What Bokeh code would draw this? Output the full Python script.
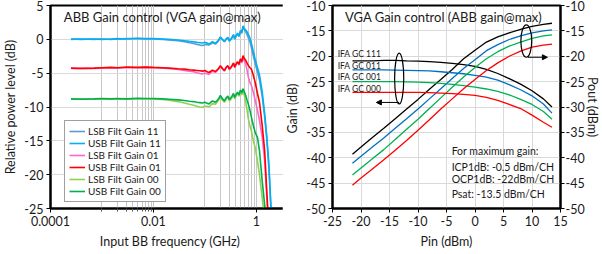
from bokeh.plotting import figure
from bokeh.layouts import row
from bokeh.models import FixedTicker, LinearAxis, Legend, LegendItem, Label, Arrow, NormalHead
from bokeh.embed import file_html
from bokeh.resources import INLINE

FONT = "Lato"
TXT = "#1a1a1a"
GRID = "#D9D9D9"

# ---------------- Left chart data ----------------
freq_ghz = [0.00025, 0.0004, 0.0007, 0.001, 0.0015, 0.002, 0.003, 0.005, 0.007, 0.01,
            0.015, 0.02, 0.03, 0.04, 0.05, 0.06, 0.07, 0.08, 0.09, 0.1,
            0.11, 0.12, 0.14, 0.16, 0.18, 0.2, 0.22, 0.24, 0.26, 0.28,
            0.3, 0.33, 0.36, 0.38, 0.4, 0.43, 0.46, 0.49, 0.52, 0.55,
            0.58, 0.62, 0.66, 0.7, 0.75, 0.8, 0.87, 0.95, 1.05, 1.15,
            1.3, 1.45, 1.6, 1.75, 1.9, 2.1]

lsb_gain_11 = [0.0, 0.05, 0.0, 0.05, 0.0, 0.05, 0.1, 0.1, 0.05, 0.05,
               0.0, -0.1, -0.2, -0.35, -0.5, -0.6, -0.75, -0.85, -0.9, -0.8,
               -0.75, -0.85, -0.5, -0.7, -0.3, 0.2, -0.1, -0.35, 0.0, 0.2,
               -0.3, 0.1, 0.6, 0.0, 0.4, 0.8, 0.4, 1.1, 0.9, 1.8,
               1.5, 1.1, 0.7, 0.2, -0.4, -1.2, -2.4, -3.6, -4.8, -6.0,
               -8.5, -11.5, -15.0, -19.0, -24.5, -30.0]
usb_gain_11 = [0.05, 0.0, 0.05, 0.0, 0.05, 0.1, 0.05, 0.15, 0.1, 0.1,
               0.05, 0.0, -0.1, -0.2, -0.3, -0.35, -0.45, -0.5, -0.55, -0.45,
               -0.55, -0.7, -0.35, -0.6, -0.2, 0.35, 0.0, -0.3, 0.1, 0.3,
               -0.2, 0.2, 0.7, 0.1, 0.5, 0.9, 0.5, 1.3, 1.0, 2.0,
               1.6, 1.4, 1.1, 0.7, 0.2, -0.6, -1.8, -3.0, -4.2, -5.3,
               -7.8, -11.0, -14.5, -18.5, -24.0, -30.0]
lsb_gain_01 = [-4.3, -4.25, -4.3, -4.25, -4.2, -4.25, -4.2, -4.2, -4.15, -4.2,
               -4.25, -4.3, -4.45, -4.6, -4.7, -4.8, -4.95, -5.05, -5.1, -5.0,
               -5.1, -5.2, -4.7, -4.9, -4.5, -4.0, -4.4, -4.7, -4.2, -4.0,
               -4.5, -4.1, -3.6, -4.2, -3.8, -3.4, -3.8, -3.0, -3.5, -2.6,
               -3.2, -3.6, -4.6, -5.6, -6.4, -6.8, -7.8, -9.0, -10.5, -12.0,
               -14.5, -18.0, -23.5, -28.5, -31.0, -33.0]
usb_gain_01 = [-4.25, -4.3, -4.25, -4.2, -4.15, -4.2, -4.1, -4.15, -4.1, -4.15,
               -4.2, -4.25, -4.35, -4.4, -4.5, -4.55, -4.6, -4.65, -4.7, -4.6,
               -4.8, -4.9, -4.55, -4.75, -4.4, -3.9, -4.3, -4.6, -4.1, -3.9,
               -4.4, -4.0, -3.5, -4.1, -3.7, -3.3, -3.7, -2.9, -3.3, -2.4,
               -2.8, -3.1, -3.5, -3.9, -4.2, -4.4, -5.3, -6.4, -8.0, -9.3,
               -12.8, -16.5, -22.8, -28.0, -31.0, -33.0]
lsb_gain_00 = [-8.85, -8.8, -8.85, -8.8, -8.85, -8.8, -8.85, -8.8, -8.8, -8.85,
               -8.9, -9.0, -9.2, -9.4, -9.6, -9.75, -9.9, -10.0, -10.05, -9.9,
               -9.9, -10.0, -9.5, -9.6, -9.1, -8.6, -9.0, -9.3, -8.8, -8.6,
               -9.1, -8.7, -8.2, -8.8, -8.4, -8.0, -8.4, -7.8, -8.2, -7.6,
               -8.2, -9.2, -10.5, -11.8, -12.8, -13.5, -15.0, -16.0, -18.0, -20.0,
               -23.5, -27.0, -31.0, -33.0, -34.0, -35.0]
usb_gain_00 = [-8.8, -8.85, -8.8, -8.75, -8.8, -8.75, -8.8, -8.7, -8.75, -8.75,
               -8.8, -8.85, -8.95, -9.05, -9.15, -9.2, -9.3, -9.35, -9.4, -9.3,
               -9.45, -9.55, -9.1, -9.3, -8.9, -8.3, -8.8, -9.1, -8.6, -8.4,
               -8.9, -8.5, -8.0, -8.6, -8.2, -7.8, -8.2, -7.5, -7.9, -7.3,
               -7.7, -8.3, -9.0, -9.6, -10.5, -11.5, -12.7, -13.8, -14.5, -16.5,
               -21.0, -24.5, -28.0, -32.0, -33.0, -34.0]

left_series = [
    ("LSB Filt Gain 11", lsb_gain_11, "#5B9BD5"),
    ("USB Filt Gain 11", usb_gain_11, "#00B0F0"),
    ("LSB Filt Gain 01", lsb_gain_01, "#FF66CC"),
    ("USB Filt Gain 01", usb_gain_01, "#FF0000"),
    ("LSB Filt Gain 00", lsb_gain_00, "#92D050"),
    ("USB Filt Gain 00", usb_gain_00, "#00B050"),
]

left_x_ticks = [0.0001, 0.01, 1]
left_x_labels = ["0.0001", "0.01", "1"]
left_x_grid = [0.001, 0.002, 0.003, 0.004, 0.005, 0.006, 0.007, 0.008, 0.009, 0.01,
               0.1, 0.2, 0.3, 0.4, 0.5, 0.6, 0.7, 0.8, 0.9, 1.0]
left_y_ticks = [5, 0, -5, -10, -15, -20, -25]
left_y_labels = ["5", "0", "-5", "-10", "-15", "-20", "-25"]

# ---------------- Right chart data ----------------
pin_dbm = [-21.5, -20, -18, -16, -14, -12, -10, -8, -6, -4, -2, 0, 2, 4, 6, 8, 10, 12, 13.5]

pout_111 = [-39.3, -37.9, -36.0, -34.2, -32.3, -30.4, -28.5, -26.5, -24.6, -22.6,
            -20.5, -18.8, -17.2, -16.2, -15.4, -14.7, -14.1, -13.7, -13.5]
pout_011 = [-41.1, -39.7, -37.9, -36.1, -34.2, -32.3, -30.4, -28.4, -26.4, -24.4,
            -22.4, -20.7, -18.9, -17.7, -16.7, -16.0, -15.4, -15.0, -14.8]
pout_001 = [-43.4, -42.0, -40.2, -38.4, -36.4, -34.4, -32.4, -30.3, -28.2, -26.1,
            -24.1, -22.2, -20.5, -19.1, -18.0, -17.2, -16.5, -16.0, -15.8]
pout_000 = [-45.4, -44.0, -42.2, -40.4, -38.5, -36.6, -34.6, -32.5, -30.4, -28.4,
            -26.4, -24.6, -22.8, -21.3, -20.0, -19.0, -18.2, -17.8, -17.6]

gain_111 = [-20.9, -20.9, -20.9, -20.8, -20.8, -20.9, -20.95, -21.05, -21.2, -21.4,
            -21.65, -22.0, -22.6, -23.4, -24.4, -25.5, -26.8, -28.4, -30.0]
gain_011 = [-22.7, -22.7, -22.7, -22.7, -22.75, -22.8, -22.85, -22.9, -23.05, -23.25,
            -23.45, -23.75, -24.1, -24.7, -25.6, -26.6, -27.8, -29.4, -31.2]
gain_001 = [-25.0, -25.0, -25.0, -25.0, -25.0, -25.05, -25.1, -25.2, -25.35, -25.55,
            -25.8, -26.1, -26.45, -26.9, -27.6, -28.5, -29.5, -30.9, -32.4]
gain_000 = [-27.1, -27.1, -27.1, -27.1, -27.1, -27.1, -27.1, -27.15, -27.25, -27.35,
            -27.5, -27.7, -28.1, -28.7, -29.5, -30.3, -31.6, -33.0, -34.0]

right_series = [
    (pout_111, gain_111, "#000000"),
    (pout_011, gain_011, "#0070C0"),
    (pout_001, gain_001, "#00B050"),
    (pout_000, gain_000, "#FF0000"),
]
gc_labels = ["IFA GC 111", "IFA GC 011", "IFA GC 001", "IFA GC 000"]

right_x_ticks = [-25, -20, -15, -10, -5, 0, 5, 10, 15]
right_x_labels = ["-25", "-20", "-15", "-10", "-5", "0", "5", "10", "15"]
right_y_ticks = [-10, -15, -20, -25, -30, -35, -40, -45, -50]
right_y_labels = ["-10", "-15", "-20", "-25", "-30", "-35", "-40", "-45", "-50"]

notes = ["For maximum gain:", "ICP1dB: -0.5 dBm/CH", "OCP1dB: -22dBm/CH", "Psat: -13.5 dBm/CH"]


def style_axis(ax, label, label_standoff=3, tick_standoff=3):
    ax.axis_label = label
    ax.axis_label_text_font = FONT
    ax.axis_label_text_font_size = "12.5px"
    ax.axis_label_text_font_style = "normal"
    ax.axis_label_text_color = TXT
    ax.axis_label_standoff = label_standoff
    ax.major_label_text_font = FONT
    ax.major_label_text_font_size = "12.5px"
    ax.major_label_text_color = TXT
    ax.major_label_standoff = tick_standoff
    ax.axis_line_color = "black"
    ax.axis_line_width = 2
    ax.major_tick_in = 0
    ax.major_tick_out = 4
    ax.major_tick_line_color = "black"
    ax.minor_tick_in = 0
    ax.minor_tick_out = 3
    ax.minor_tick_line_color = "#555555"


# ---------------- Left figure ----------------
p1 = figure(width=297, height=254, x_axis_type="log", x_range=(1e-4, 4.4), y_range=(-25, 5),
            output_backend="svg", toolbar_location=None,
            min_border_left=43, min_border_right=8, min_border_top=5, min_border_bottom=46)
p1.outline_line_color = "black"
p1.outline_line_width = 2
p1.outline_line_alpha = 1

p1.xaxis.ticker = FixedTicker(ticks=left_x_ticks, minor_ticks=left_x_grid[:9])
p1.xaxis.major_label_overrides = {t: s for t, s in zip(left_x_ticks, left_x_labels)}
p1.yaxis.ticker = FixedTicker(ticks=left_y_ticks, minor_ticks=[])
p1.yaxis.major_label_overrides = {t: s for t, s in zip(left_y_ticks, left_y_labels)}
style_axis(p1.xaxis[0], "Input BB frequency (GHz)", label_standoff=5)
style_axis(p1.yaxis[0], "Relative power level (dB)")

p1.xgrid.ticker = FixedTicker(ticks=left_x_grid)
p1.ygrid.ticker = FixedTicker(ticks=left_y_ticks)
p1.xgrid.grid_line_color = "#C8C8C8"
p1.ygrid.grid_line_color = GRID

items = []
for name, vals, col in left_series:
    r = p1.line(freq_ghz, vals, line_color=col, line_width=1.6)
    items.append(LegendItem(label=name, renderers=[r]))

legend = Legend(items=items, location=(14, 6))
legend.label_text_font = FONT
legend.label_text_font_size = "10px"
legend.label_text_color = TXT
legend.label_standoff = 3
legend.glyph_width = 16
legend.glyph_height = 12
legend.label_height = 12
legend.spacing = 0
legend.padding = 4
legend.margin = 0
legend.border_line_color = "#404040"
legend.border_line_width = 1
legend.background_fill_alpha = 1
p1.add_layout(legend)

p1.add_layout(Label(x=0.015, y=3.3, text="ABB Gain control (VGA gain@max)",
                    text_align="center", text_baseline="middle",
                    text_font=FONT, text_font_size="13px", text_color=TXT))

# ---------------- Right figure ----------------
p2 = figure(width=320, height=254, x_range=(-25, 15), y_range=(-50, -10),
            output_backend="svg", toolbar_location=None,
            min_border_left=37, min_border_right=36, min_border_top=5, min_border_bottom=46)
p2.margin = (0, 0, 0, -15)
p2.outline_line_color = "black"
p2.outline_line_width = 2
p2.outline_line_alpha = 1

p2.xaxis.ticker = FixedTicker(ticks=right_x_ticks, minor_ticks=[])
p2.xaxis.major_label_overrides = {t: s for t, s in zip(right_x_ticks, right_x_labels)}
p2.yaxis.ticker = FixedTicker(ticks=right_y_ticks, minor_ticks=[])
p2.yaxis.major_label_overrides = {t: s for t, s in zip(right_y_ticks, right_y_labels)}
style_axis(p2.xaxis[0], "Pin (dBm)", label_standoff=5)
style_axis(p2.yaxis[0], "Gain  (dB)")

yr = LinearAxis(ticker=FixedTicker(ticks=right_y_ticks, minor_ticks=[]))
yr.major_label_overrides = {t: s for t, s in zip(right_y_ticks, right_y_labels)}
style_axis(yr, "Pout (dBm)", label_standoff=-3, tick_standoff=1)
p2.add_layout(yr, "right")

p2.xgrid.ticker = FixedTicker(ticks=right_x_ticks)
p2.ygrid.ticker = FixedTicker(ticks=right_y_ticks)
p2.xgrid.grid_line_color = GRID
p2.ygrid.grid_line_color = GRID

for pout, gain, col in right_series:
    p2.line(pin_dbm, pout, line_color=col, line_width=1.3)
    p2.line(pin_dbm, gain, line_color=col, line_width=1.3)

# labels for gain curves
gc_y = [-19.5, -22.0, -24.1, -26.4]
for txt, yy in zip(gc_labels, gc_y):
    p2.add_layout(Label(x=-24.1, y=yy, text=txt, text_align="left", text_baseline="middle",
                        text_font=FONT, text_font_size="8.5px", text_color=TXT))

# ellipses and arrows
p2.ellipse(x=[-13.3], y=[-24.4], width=1.6, height=10.0,
           fill_color=None, line_color="black", line_width=1.2)
p2.ellipse(x=[9.0], y=[-17.0], width=1.9, height=6.4,
           fill_color=None, line_color="black", line_width=1.2)
p2.add_layout(Arrow(end=NormalHead(size=5, line_color="black", fill_color="black", line_width=1),
                    x_start=-13.3, y_start=-29.1, x_end=-17.3, y_end=-29.1,
                    line_color="black", line_width=1))
p2.add_layout(Arrow(end=NormalHead(size=5, line_color="black", fill_color="black", line_width=1),
                    x_start=9.3, y_start=-20.2, x_end=12.7, y_end=-20.2,
                    line_color="black", line_width=1))

p2.add_layout(Label(x=-5.5, y=-12.3, text="VGA Gain control (ABB gain@max)",
                    text_align="center", text_baseline="middle",
                    text_font=FONT, text_font_size="13px", text_color=TXT))

note_y = [-38.6, -41.75, -44.1, -47.1]
for txt, yy in zip(notes, note_y):
    p2.add_layout(Label(x=-4.1, y=yy, text=txt, text_align="left", text_baseline="middle",
                        text_font=FONT, text_font_size="10.5px", text_color=TXT))

layout = row(p1, p2)
open("out.html", "w").write(file_html(layout, INLINE))
